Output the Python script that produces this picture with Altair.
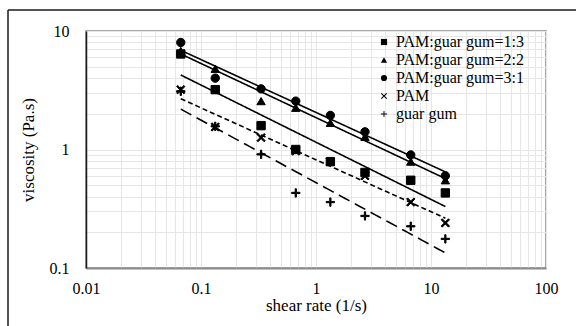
import altair as alt
import pandas as pd

shear = [0.0667, 0.133, 0.333, 0.667, 1.333, 2.667, 6.667, 13.33]
series_names = ["PAM:guar gum=1:3", "PAM:guar gum=2:2", "PAM:guar gum=3:1", "PAM", "guar gum"]
v_13 = [6.4, 3.2, 1.59, 1.0, 0.79, 0.64, 0.55, 0.43]
v_22 = [6.8, 4.8, 2.56, 2.25, 1.68, 1.28, 0.79, 0.55]
v_31 = [8.0, 4.0, 3.25, 2.56, 1.94, 1.41, 0.9, 0.6]
v_pam = [3.2, 1.55, 1.26, 0.97, 0.79, 0.6, 0.36, 0.24]
v_guar = [3.1, 1.57, 0.91, 0.43, 0.36, 0.275, 0.225, 0.176]

X_PATH = "M-1,-0.75L-0.75,-1L1,0.75L0.75,1Z M0.75,-1L1,-0.75L-0.75,1L-1,0.75Z"
PLUS_PATH = ("M-1,-0.15L-0.15,-0.15L-0.15,-1L0.15,-1L0.15,-0.15L1,-0.15L1,0.15"
             "L0.15,0.15L0.15,1L-0.15,1L-0.15,0.15L-1,0.15Z")
shapes = ["square", "triangle-up", "circle", X_PATH, PLUS_PATH]
dashes = [[1, 0], [1, 0], [1, 0], [5, 3], [12, 6]]

rows = []
for name, vals in zip(series_names, [v_13, v_22, v_31, v_pam, v_guar]):
    for x, y in zip(shear, vals):
        rows.append({"series": name, "shear": x, "visc": y})
df = pd.DataFrame(rows)

FONT = "Liberation Serif"
grid_x = [0.01, 0.02, 0.03, 0.04, 0.05, 0.06, 0.07, 0.08, 0.09,
          0.1, 0.2, 0.3, 0.4, 0.5, 0.6, 0.7, 0.8, 0.9,
          1, 2, 3, 4, 5, 6, 7, 8, 9,
          10, 20, 30, 40, 50, 60, 70, 80, 90, 100]
grid_y = [0.1, 0.2, 0.3, 0.4, 0.5, 0.6, 0.7, 0.8, 0.9,
          1, 2, 3, 4, 5, 6, 7, 8, 9, 10]
label_expr = ("abs(log(datum.value)/LN10 - round(log(datum.value)/LN10)) < 1e-6 "
              "? format(datum.value, '~g') : ''")

xscale = alt.Scale(type="log", domain=[0.01, 100], nice=False)
yscale = alt.Scale(type="log", domain=[0.1, 10], nice=False)

xaxis = alt.Axis(values=grid_x, labelExpr=label_expr, title="shear rate (1/s)",
                 ticks=False, labelPadding=12, titlePadding=1, labelOverlap=False,
                 domainColor="#8c8c8c", domainWidth=2, gridColor="#e6e6e6",
                 labelFlush=False)
yaxis = alt.Axis(values=grid_y, labelExpr=label_expr, title="viscosity (Pa.s)",
                 ticks=False, labelPadding=17, titlePadding=12, labelOverlap=False,
                 domainColor="#1a1a1a", domainWidth=1.5, gridColor="#e6e6e6",
                 labelFlush=False)

base = alt.Chart(df)

lines = base.transform_regression(
    "shear", "visc", groupby=["series"], method="pow", extent=[0.0667, 13.33]
).transform_calculate(
    fit="datum.series"
).mark_line(color="black", strokeWidth=1.6).encode(
    x=alt.X("shear:Q", scale=xscale, axis=xaxis),
    y=alt.Y("visc:Q", scale=yscale, axis=yaxis),
    strokeDash=alt.StrokeDash("fit:N", scale=alt.Scale(domain=series_names, range=dashes),
                              legend=None),
    detail="fit:N",
)

points = base.mark_point(filled=True, color="black", stroke="black", strokeWidth=1.0,
                         opacity=1, size=70).encode(
    x=alt.X("shear:Q", scale=xscale),
    y=alt.Y("visc:Q", scale=yscale),
    shape=alt.Shape("series:N", scale=alt.Scale(domain=series_names, range=shapes),
                    legend=alt.Legend(title=None, orient="none", legendX=290, legendY=3,
                                      labelFont=FONT, labelFontSize=16, labelColor="black",
                                      symbolSize=38, symbolFillColor="black",
                                      symbolStrokeColor="black", symbolStrokeWidth=0.8,
                                      rowPadding=2, labelOffset=4, padding=0)),
)

frame = alt.Chart(alt.Data(values=[{}])).mark_rule(color="#1a1a1a", strokeWidth=1.5).encode(
    x=alt.value(-78), x2=alt.value(600), y=alt.value(-21)
)
frame2 = alt.Chart(alt.Data(values=[{}])).mark_rule(color="#1a1a1a", strokeWidth=1.5).encode(
    x=alt.value(-78), y=alt.value(-21), y2=alt.value(400)
)

chart = alt.layer(lines, points, frame, frame2).resolve_legend(
    shape="independent", strokeDash="independent"
).properties(
    width=460, height=237,
    autosize=alt.AutoSizeParams(type="none"),
    padding={"left": 86, "top": 31, "right": 30, "bottom": 58},
    background="white",
).configure_view(
    stroke="#8c8c8c", strokeWidth=1.5
).configure_axis(
    labelFont=FONT, titleFont=FONT, labelFontSize=16, titleFontSize=17,
    labelColor="black", titleColor="black", titleFontWeight="normal",
)

chart.save("out.html", embed_options={"renderer": "svg", "actions": False})
